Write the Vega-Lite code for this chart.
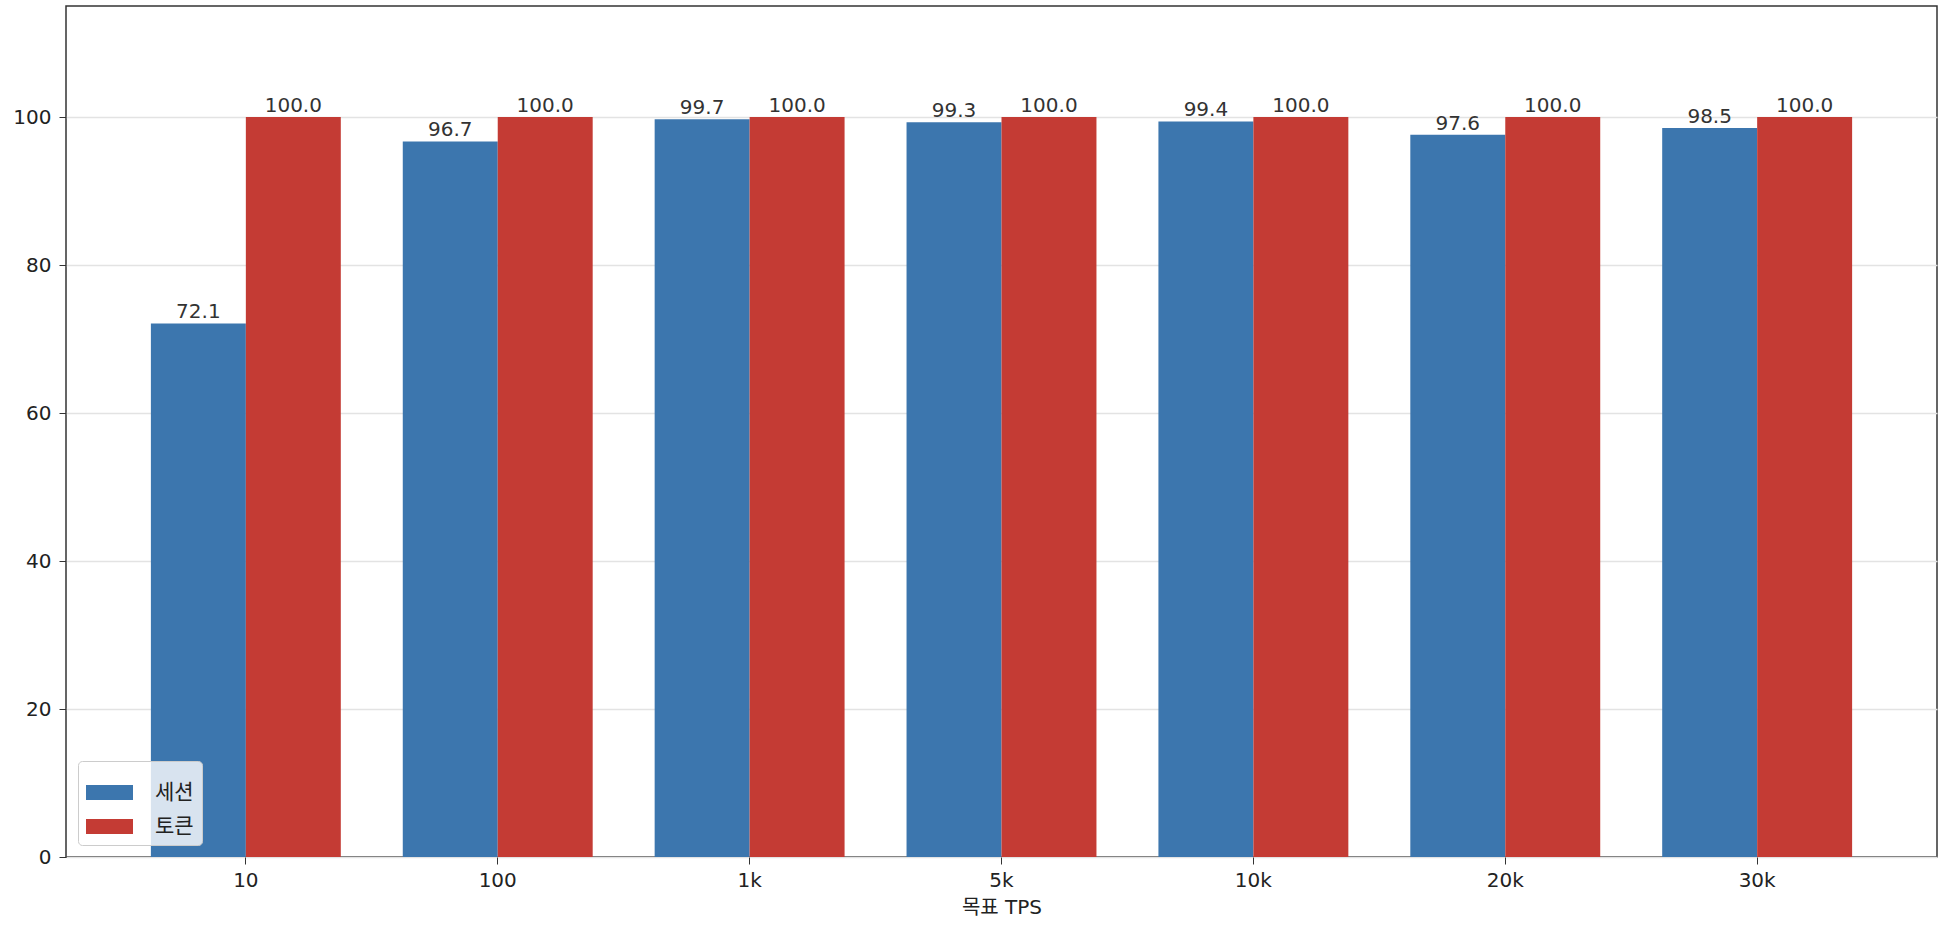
{
  "$schema": "https://vega.github.io/schema/vega-lite/v6.json",
  "description": "세션 vs 토큰 by 목표 TPS",
  "autosize": {"type": "none"},
  "padding": {"left": 66, "top": 6, "right": 9, "bottom": 77},
  "width": 1871,
  "height": 851,
  "background": "white",
  "data": {
    "values": [
      {"tps": "10", "kind": "세션", "value": 72.1},
      {"tps": "10", "kind": "토큰", "value": 100.0},
      {"tps": "100", "kind": "세션", "value": 96.7},
      {"tps": "100", "kind": "토큰", "value": 100.0},
      {"tps": "1k", "kind": "세션", "value": 99.7},
      {"tps": "1k", "kind": "토큰", "value": 100.0},
      {"tps": "5k", "kind": "세션", "value": 99.3},
      {"tps": "5k", "kind": "토큰", "value": 100.0},
      {"tps": "10k", "kind": "세션", "value": 99.4},
      {"tps": "10k", "kind": "토큰", "value": 100.0},
      {"tps": "20k", "kind": "세션", "value": 97.6},
      {"tps": "20k", "kind": "토큰", "value": 100.0},
      {"tps": "30k", "kind": "세션", "value": 98.5},
      {"tps": "30k", "kind": "토큰", "value": 100.0}
    ]
  },
  "encoding": {
    "x": {
      "field": "tps",
      "type": "nominal",
      "sort": ["10", "100", "1k", "5k", "10k", "20k", "30k"],
      "scale": {"paddingInner": 0.246, "paddingOuter": 0.337},
      "axis": {
        "title": "목표 TPS",
        "labelAngle": 0,
        "grid": false,
        "domain": false,
        "tickSize": 7,
        "tickColor": "#333",
        "labelPadding": 6,
        "titlePadding": 7
      }
    },
    "xOffset": {
      "field": "kind",
      "type": "nominal",
      "scale": {"paddingInner": 0, "paddingOuter": 0}
    },
    "y": {
      "field": "value",
      "type": "quantitative",
      "scale": {"domain": [0, 115], "nice": false},
      "axis": {
        "title": null,
        "values": [0, 20, 40, 60, 80, 100],
        "domain": false,
        "tickSize": 7,
        "tickColor": "#333",
        "labelPadding": 8,
        "gridColor": "#e3e3e3",
        "gridWidth": 1.3
      }
    }
  },
  "layer": [
    {
      "mark": {"type": "bar"},
      "encoding": {
        "color": {
          "field": "kind",
          "type": "nominal",
          "scale": {"domain": ["세션", "토큰"], "range": ["#3c76ae", "#c43b34"]},
          "legend": {
            "title": null,
            "orient": "bottom-left",
            "offset": 12,
            "fillColor": "rgba(255,255,255,0.8)",
            "strokeColor": "#cccccc",
            "cornerRadius": 4,
            "padding": 8,
            "symbolType": "M-1,-0.32H1V0.32H-1Z",
            "symbolSize": 2209,
            "symbolStrokeWidth": 0,
            "symbolOpacity": 1,
            "rowPadding": -13,
            "labelFontSize": 21,
            "labelOffset": 22,
            "labelColor": "#222"
          }
        }
      }
    },
    {
      "mark": {"type": "text", "baseline": "bottom", "dy": -1, "fontSize": 20, "color": "#333"},
      "encoding": {
        "text": {"field": "value", "type": "quantitative", "format": ".1f"}
      }
    }
  ],
  "config": {
    "font": "DejaVu Sans, Noto Sans CJK KR",
    "view": {"stroke": "#333", "strokeWidth": 1.5},
    "axis": {
      "labelFont": "DejaVu Sans, Noto Sans CJK KR",
      "titleFont": "DejaVu Sans, Noto Sans CJK KR",
      "labelFontSize": 20,
      "titleFontSize": 20,
      "titleFontWeight": "normal",
      "labelColor": "#222",
      "titleColor": "#222"
    },
    "legend": {"labelFont": "Noto Sans CJK KR"}
  }
}
